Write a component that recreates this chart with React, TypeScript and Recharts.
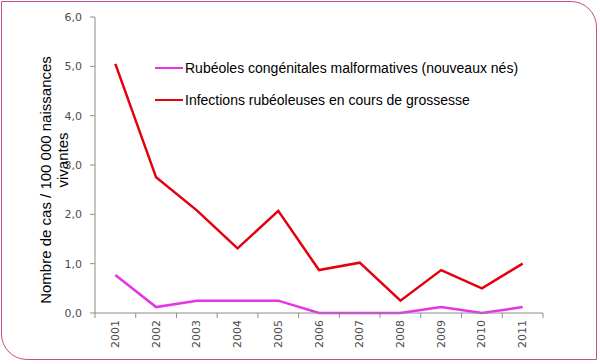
import { Legend, Line, LineChart, XAxis, YAxis } from "recharts";

// Taux pour 100 000 naissances vivantes
const years = ["2001", "2002", "2003", "2004", "2005", "2006", "2007", "2008", "2009", "2010", "2011"];
const congenitales = [0.77, 0.12, 0.25, 0.25, 0.25, 0, 0, 0, 0.12, 0, 0.12];
const grossesse = [5.05, 2.75, 2.08, 1.31, 2.07, 0.87, 1.02, 0.25, 0.87, 0.5, 1.0];
const yTicks = [0, 1, 2, 3, 4, 5, 6];

const data = years.map((year, i) => ({
  year,
  congenitales: congenitales[i],
  grossesse: grossesse[i],
}));

const PLOT_LEFT = 95;
const PLOT_RIGHT = 543;
const STEP = (PLOT_RIGHT - PLOT_LEFT) / years.length;
const AXIS = "#8c8c8c";
const TICK_TEXT = "#4d4d4d";
const MAGENTA = "#e633e6";
const RED = "#e3000f";

const fmt = (v: number) => v.toFixed(1).replace(".", ",");

function YearTick(props: any) {
  const { x, y, payload, index, visibleTicksCount } = props;
  return (
    <g>
      <line x1={x - STEP / 2} x2={x - STEP / 2} y1={y} y2={y + 5} stroke={AXIS} />
      {index === visibleTicksCount - 1 && (
        <line x1={x + STEP / 2} x2={x + STEP / 2} y1={y} y2={y + 5} stroke={AXIS} />
      )}
      <text
        x={x}
        y={y + 7}
        transform={`rotate(-90, ${x}, ${y + 7})`}
        textAnchor="end"
        dominantBaseline="central"
        fontSize={11}
        fontFamily="DejaVu Sans"
        fill={TICK_TEXT}
      >
        {payload.value}
      </text>
    </g>
  );
}

function YLabel() {
  const style = { fontFamily: "Liberation Sans, Arial", fontSize: 15, fill: "#000" };
  return (
    <g>
      <text x={45} y={180} transform="rotate(-90, 45, 180)" textAnchor="middle" dominantBaseline="central" {...style}>
        Nombre de cas / 100 000 naissances
      </text>
      <text x={62} y={160} transform="rotate(-90, 62, 160)" textAnchor="middle" dominantBaseline="central" {...style}>
        vivantes
      </text>
    </g>
  );
}

function LegendBox() {
  const items = [
    { color: MAGENTA, label: "Rubéoles congénitales malformatives (nouveaux nés)" },
    { color: RED, label: "Infections rubéoleuses en cours de grossesse" },
  ];
  return (
    <div style={{ fontFamily: "Liberation Sans, Arial", fontSize: 14, color: "#000" }}>
      {items.map((it) => (
        <div key={it.label} style={{ display: "flex", alignItems: "center", height: 32 }}>
          <span style={{ display: "inline-block", width: 28, height: 2.5, background: it.color, marginRight: 2 }} />
          <span>{it.label}</span>
        </div>
      ))}
    </div>
  );
}

export default function App() {
  return (
    <div
      style={{
        position: "absolute",
        left: 0,
        top: 0,
        width: 600,
        height: 364,
        background: "#fff",
      }}
    >
      <div
        style={{
          position: "absolute",
          left: 1,
          top: 1,
          width: 596,
          height: 359,
          border: "1.5px solid #c0508f",
          borderRadius: "0 26px 0 26px",
          boxSizing: "border-box",
        }}
      />
      <LineChart
        width={600}
        height={364}
        data={data}
        margin={{ top: 17, right: 57, bottom: 0, left: 0 }}
        style={{ position: "absolute", left: 0, top: 0 }}
      >
        <XAxis
          dataKey="year"
          padding={{ left: STEP / 2, right: STEP / 2 }}
          stroke={AXIS}
          tickLine={false}
          tickSize={0}
          tickMargin={0}
          tick={<YearTick />}
          interval={0}
          height={51}
        />
        <YAxis
          width={PLOT_LEFT}
          domain={[0, 6]}
          ticks={yTicks}
          tickFormatter={fmt}
          stroke={AXIS}
          tickSize={5}
          tickMargin={8}
          tick={{ fontSize: 11, fontFamily: "DejaVu Sans", fill: TICK_TEXT }}
          label={<YLabel />}
        />
        <Legend
          layout="vertical"
          verticalAlign="middle"
          align="center"
          content={<LegendBox />}
          wrapperStyle={{ top: 52, left: 155, width: 420 }}
        />
        <Line
          type="linear"
          dataKey="congenitales"
          name="Rubéoles congénitales malformatives (nouveaux nés)"
          stroke={MAGENTA}
          strokeWidth={2.5}
          dot={false}
          isAnimationActive={false}
        />
        <Line
          type="linear"
          dataKey="grossesse"
          name="Infections rubéoleuses en cours de grossesse"
          stroke={RED}
          strokeWidth={2.5}
          dot={false}
          isAnimationActive={false}
        />
      </LineChart>
    </div>
  );
}
